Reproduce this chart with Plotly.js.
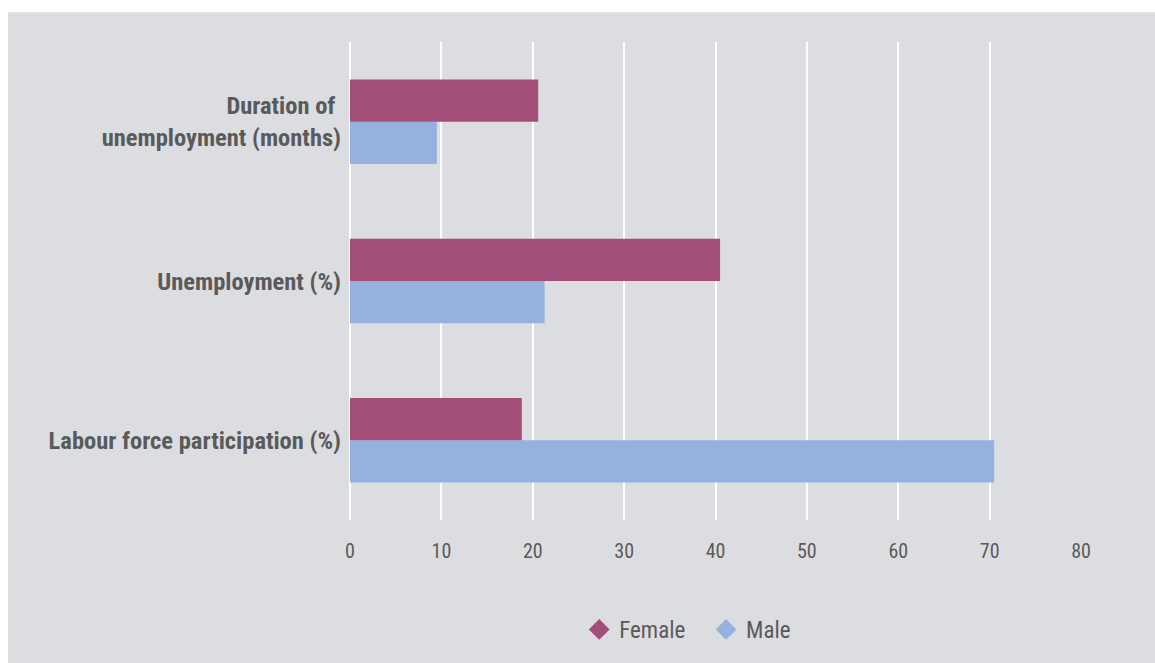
<!DOCTYPE html>
<html>
<head>
<meta charset="utf-8">
<script src="https://cdn.plot.ly/plotly-3.0.1.min.js"></script>
<style>html,body{margin:0;padding:0;background:#fff;}#chart{width:1155px;height:663px;}</style>
</head>
<body>
<div id="chart"></div>
<script>
const categories = ['Labour force participation (%)', 'Unemployment (%)', 'Duration of <br>unemployment (months)'];
const femaleValues = [18.8, 40.5, 20.6];
const maleValues = [70.5, 21.3, 9.5];
const xTicks = [0, 10, 20, 30, 40, 50, 60, 70, 80];
const seriesNames = ['Female', 'Male'];

const FEMALE = '#a34e78';
const MALE = '#95b2de';
const BG = '#dcdde1';
const TXT = '#5a5a5a';
const FONT = '"Liberation Sans Narrow", "Roboto Condensed", "Arial Narrow", sans-serif';

const data = [
  {type: 'bar', orientation: 'h', name: seriesNames[1], y: categories, x: maleValues,
   marker: {color: MALE}, showlegend: false, hoverinfo: 'x'},
  {type: 'bar', orientation: 'h', name: seriesNames[0], y: categories, x: femaleValues,
   marker: {color: FEMALE}, showlegend: false, hoverinfo: 'x'},
  {type: 'scatter', mode: 'markers', name: seriesNames[0] + '   ', x: [null], y: [null],
   marker: {symbol: 'diamond', color: FEMALE, size: 20}},
  {type: 'scatter', mode: 'markers', name: seriesNames[1], x: [null], y: [null],
   marker: {symbol: 'diamond', color: MALE, size: 20}}
];

const layout = {
  width: 1155, height: 663,
  margin: {l: 350, r: 74, t: 42, b: 141, pad: 8},
  paper_bgcolor: BG,
  plot_bgcolor: BG,
  barmode: 'group',
  bargap: 0.47,
  bargroupgap: 0,
  font: {family: FONT, color: TXT},
  xaxis: {
    range: [0, 80], tickvals: xTicks, ticktext: xTicks.map(String),
    showgrid: true, gridcolor: '#ffffff', gridwidth: 2,
    zeroline: true, zerolinecolor: '#ffffff', zerolinewidth: 2,
    showline: false, ticks: 'outside', ticklen: 5, tickcolor: 'rgba(0,0,0,0)',
    tickfont: {family: FONT, size: 20, color: TXT}, fixedrange: true
  },
  yaxis: {
    type: 'category', categoryorder: 'array', categoryarray: categories,
    range: [-0.5, 2.5], showgrid: false, zeroline: false, showline: false, ticks: '',
    tickfont: {family: FONT, size: 24.5, color: TXT, weight: 'bold'}, fixedrange: true
  },
  legend: {
    orientation: 'h', x: 0.462, xanchor: 'center', y: -0.229, yanchor: 'middle',
    font: {family: FONT, size: 23, color: TXT}, bgcolor: 'rgba(0,0,0,0)',
    itemclick: false, itemdoubleclick: false
  },
  shapes: [
    {type: 'rect', xref: 'paper', yref: 'paper', x0: -0.6, x1: 1.2, y0: 1.0625, y1: 1.2,
     fillcolor: '#ffffff', line: {width: 0}, layer: 'above'},
    {type: 'rect', xref: 'paper', yref: 'paper', x0: -0.6, x1: -0.4679, y0: -0.4, y1: 1.2,
     fillcolor: '#ffffff', line: {width: 0}, layer: 'above'}
  ]
};

Plotly.newPlot('chart', data, layout, {displayModeBar: false, staticPlot: false});
</script>
</body>
</html>
